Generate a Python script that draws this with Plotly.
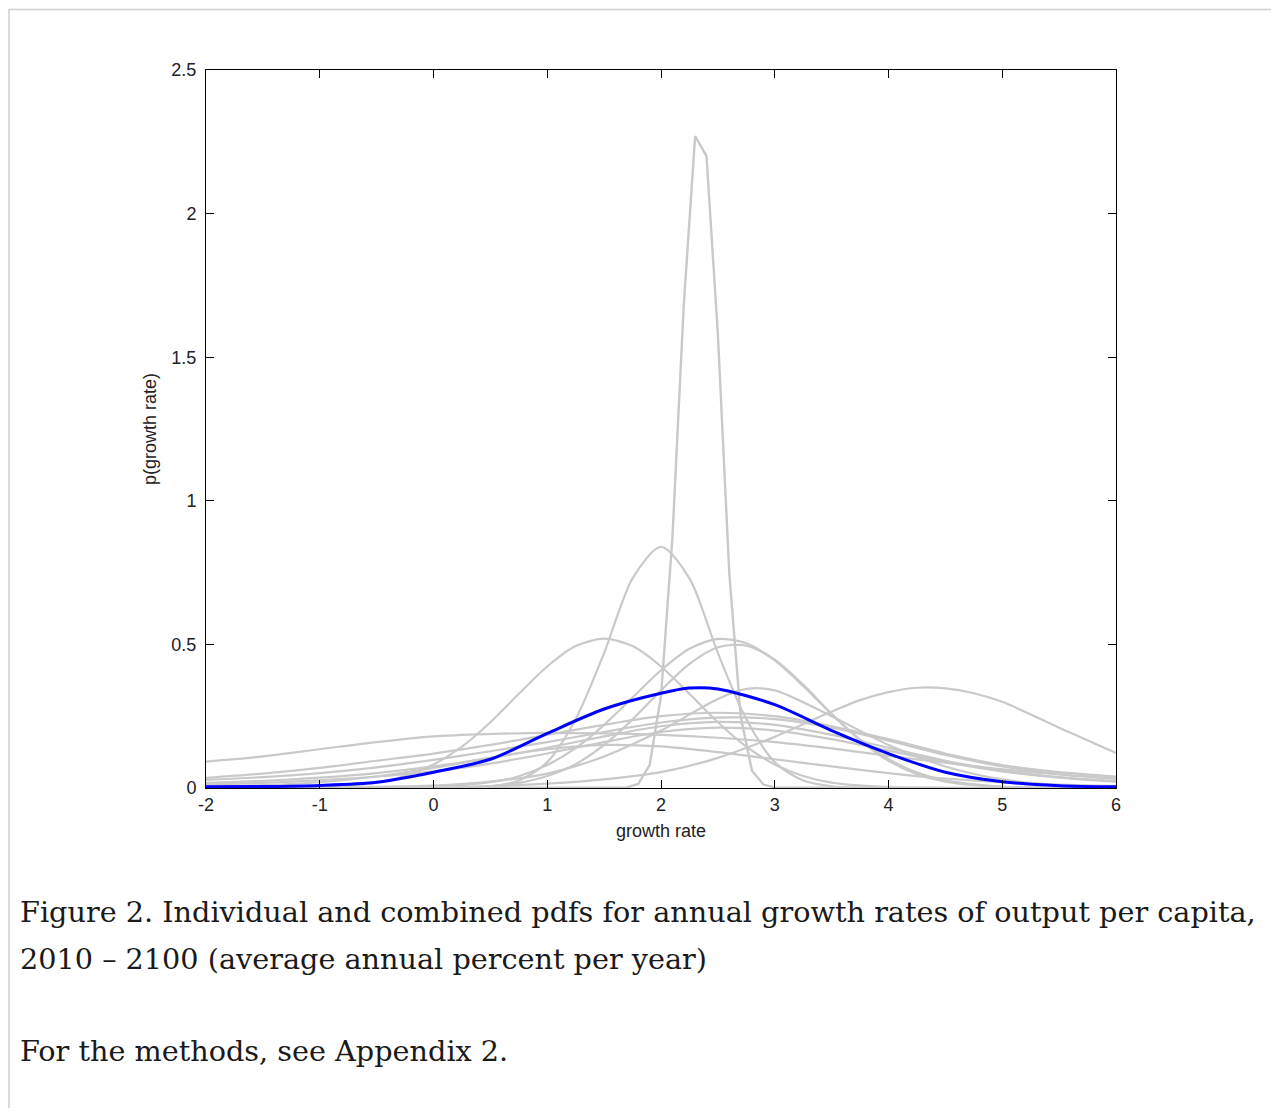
import plotly.graph_objects as go

# ---- data ----
x_spike = [-2, 1.7, 1.8, 1.9, 2.0, 2.1, 2.2, 2.3, 2.4, 2.5, 2.6, 2.7, 2.8, 2.9, 3.0, 6]
y_spike = [0, 0.002, 0.014, 0.08, 0.32, 0.87, 1.68, 2.27, 2.2, 1.58, 0.75, 0.25, 0.06, 0.012, 0.002, 0]

x_b = [-2, 0, 0.25, 0.5, 0.75, 1.0, 1.25, 1.5, 1.75, 2.0, 2.25, 2.5, 2.75, 3.0, 3.25, 3.5, 3.75, 4, 6]
y_b = [0, 0, 0.001, 0.006, 0.026, 0.09, 0.24, 0.47, 0.73, 0.84, 0.73, 0.47, 0.24, 0.09, 0.026, 0.006, 0.001, 0, 0]

x_c = [-2, -1.5, -1, -0.5, -0.25, 0, 0.25, 0.5, 0.75, 1, 1.25, 1.5, 1.75, 2, 2.25, 2.5, 2.75, 3, 3.25, 3.5, 4, 4.5, 6]
y_c = [0, 0, 0.003, 0.019, 0.042, 0.082, 0.144, 0.229, 0.328, 0.423, 0.494, 0.52, 0.494, 0.423, 0.328, 0.229, 0.144, 0.082, 0.042, 0.019, 0.003, 0, 0]

x_q = [-2, -0.5, 0, 0.5, 0.75, 1.0, 1.25, 1.5, 1.75, 2.0, 2.25, 2.5, 2.75, 3.0, 3.25, 3.5, 3.75, 4.0, 4.25, 4.5, 5.0, 5.5, 6]
y_d = [0, 0, 0.003, 0.02, 0.041, 0.08, 0.139, 0.22, 0.315, 0.41, 0.485, 0.519, 0.504, 0.444, 0.355, 0.257, 0.169, 0.101, 0.054, 0.027, 0.005, 0.001, 0]
y_e = [0, 0, 0.001, 0.007, 0.018, 0.042, 0.083, 0.15, 0.239, 0.34, 0.432, 0.49, 0.496, 0.447, 0.36, 0.258, 0.166, 0.095, 0.048, 0.022, 0.003, 0, 0]

x_f = [-2, 0, 0.5, 1, 1.5, 2, 2.5, 3, 3.25, 3.5, 3.75, 4, 4.25, 4.5, 4.75, 5, 5.5, 6]
y_f = [0, 0.002, 0.006, 0.015, 0.03, 0.055, 0.105, 0.178, 0.222, 0.266, 0.306, 0.334, 0.349, 0.347, 0.33, 0.3, 0.21, 0.122]

x_h = [-2, -1.5, -1, -0.5, 0, 0.5, 1, 1.5, 2, 2.5, 3, 3.5, 4, 4.5, 5, 5.5, 6]
y_g = [0.092, 0.11, 0.135, 0.16, 0.18, 0.188, 0.192, 0.19, 0.185, 0.175, 0.16, 0.138, 0.112, 0.088, 0.065, 0.047, 0.033]
y_h1 = [0.035, 0.05, 0.07, 0.095, 0.12, 0.15, 0.185, 0.22, 0.25, 0.262, 0.25, 0.215, 0.17, 0.12, 0.08, 0.055, 0.04]
y_h2 = [0.028, 0.038, 0.052, 0.072, 0.098, 0.128, 0.16, 0.195, 0.228, 0.245, 0.24, 0.21, 0.165, 0.115, 0.075, 0.048, 0.032]
y_h3 = [0.018, 0.025, 0.036, 0.052, 0.075, 0.105, 0.14, 0.18, 0.215, 0.23, 0.22, 0.185, 0.14, 0.095, 0.06, 0.038, 0.024]
y_h4 = [0.012, 0.018, 0.027, 0.04, 0.058, 0.085, 0.12, 0.16, 0.195, 0.21, 0.2, 0.17, 0.13, 0.09, 0.058, 0.036, 0.022]
y_j = [0.005, 0.01, 0.02, 0.04, 0.07, 0.105, 0.135, 0.15, 0.145, 0.125, 0.1, 0.075, 0.052, 0.033, 0.02, 0.012, 0.007]

x_i = [-2, -1, 0, 0.5, 1, 1.5, 2, 2.5, 2.75, 3, 3.5, 4, 4.5, 5, 5.5, 6]
y_i = [0, 0.001, 0.008, 0.022, 0.05, 0.11, 0.2, 0.31, 0.345, 0.34, 0.25, 0.15, 0.075, 0.03, 0.01, 0.003]

x_blue = [-2, -1.5, -1, -0.5, 0, 0.5, 1, 1.5, 2, 2.25, 2.5, 3, 3.5, 4, 4.5, 5, 5.5, 6]
y_blue = [0.004, 0.005, 0.009, 0.02, 0.055, 0.1, 0.19, 0.275, 0.33, 0.348, 0.345, 0.29, 0.2, 0.12, 0.055, 0.022, 0.008, 0.004]

x_ticks = [-2, -1, 0, 1, 2, 3, 4, 5, 6]
x_ticklabels = ["-2", "-1", "0", "1", "2", "3", "4", "5", "6"]
y_ticks = [0, 0.5, 1, 1.5, 2, 2.5]
y_ticklabels = ["0", "0.5", "1", "1.5", "2", "2.5"]

caption1 = "Figure 2. Individual and combined pdfs for annual growth rates of output per capita,"
caption2 = "2010 \u2013 2100 (average annual percent per year)"
caption3 = "For the methods, see Appendix 2."

GRAY = "#c9c9c9"

fig = go.Figure()
gray_smooth = [
    (x_h, y_g), (x_h, y_h1), (x_h, y_h2), (x_h, y_h3), (x_h, y_h4), (x_h, y_j),
    (x_i, y_i), (x_f, y_f), (x_c, y_c), (x_q, y_d), (x_q, y_e), (x_b, y_b),
]
for xs, ys in gray_smooth:
    fig.add_trace(go.Scatter(x=xs, y=ys, mode="lines",
                             line=dict(color=GRAY, width=2.2, shape="spline", smoothing=0.8),
                             hoverinfo="skip", showlegend=False))
fig.add_trace(go.Scatter(x=x_spike, y=y_spike, mode="lines",
                         line=dict(color=GRAY, width=2.4, shape="linear"),
                         hoverinfo="skip", showlegend=False))
fig.add_trace(go.Scatter(x=x_blue, y=y_blue, mode="lines",
                         line=dict(color="#0000ff", width=3, shape="spline", smoothing=0.8),
                         hoverinfo="skip", showlegend=False))

axis_font = dict(family="Liberation Sans, Arial, sans-serif", size=18, color="#222222")

# the page body adds an 8px offset; margins compensate so the plot box sits at 206..1116 x 70..787
fig.update_layout(
    width=1271, height=1100,
    margin=dict(l=198, r=163, t=62, b=320),
    paper_bgcolor="white", plot_bgcolor="white",
    showlegend=False,
    xaxis=dict(range=[-2, 6], tickvals=x_ticks, ticktext=x_ticklabels, ticks="inside", ticklen=8,
               tickcolor="black", showline=True, linecolor="black", linewidth=1, mirror="ticks",
               showgrid=False, zeroline=False, tickfont=axis_font,
               title=dict(text="growth rate", font=axis_font, standoff=10)),
    yaxis=dict(range=[0, 2.5], tickvals=y_ticks, ticktext=y_ticklabels, ticks="inside", ticklen=8,
               tickcolor="black", showline=True, linecolor="black", linewidth=1, mirror="ticks",
               showgrid=False, zeroline=False, tickfont=axis_font, ticklabelstandoff=5,
               title=dict(text="p(growth rate)", font=axis_font, standoff=10)),
)

# outer light frame of the page
fig.add_shape(type="rect", xref="paper", yref="paper",
              x0=(9 - 206) / 910, x1=(1277 - 206) / 910,
              y0=(787.5 - 1200) / 718, y1=(787.5 - 9) / 718,
              line=dict(color="#d0d0d0", width=1.5), fillcolor="rgba(0,0,0,0)", layer="below")

cap_font = dict(family="DejaVu Serif, serif", size=28.7, color="#1a1a1a")
for txt, py in [(caption1, 911), (caption2, 958), (caption3, 1050)]:
    fig.add_annotation(text=txt, xref="paper", yref="paper",
                       x=(18 - 206) / 910, y=(787.5 - py) / 718,
                       xanchor="left", yanchor="middle", showarrow=False, font=cap_font)

fig.write_html("out.html")
